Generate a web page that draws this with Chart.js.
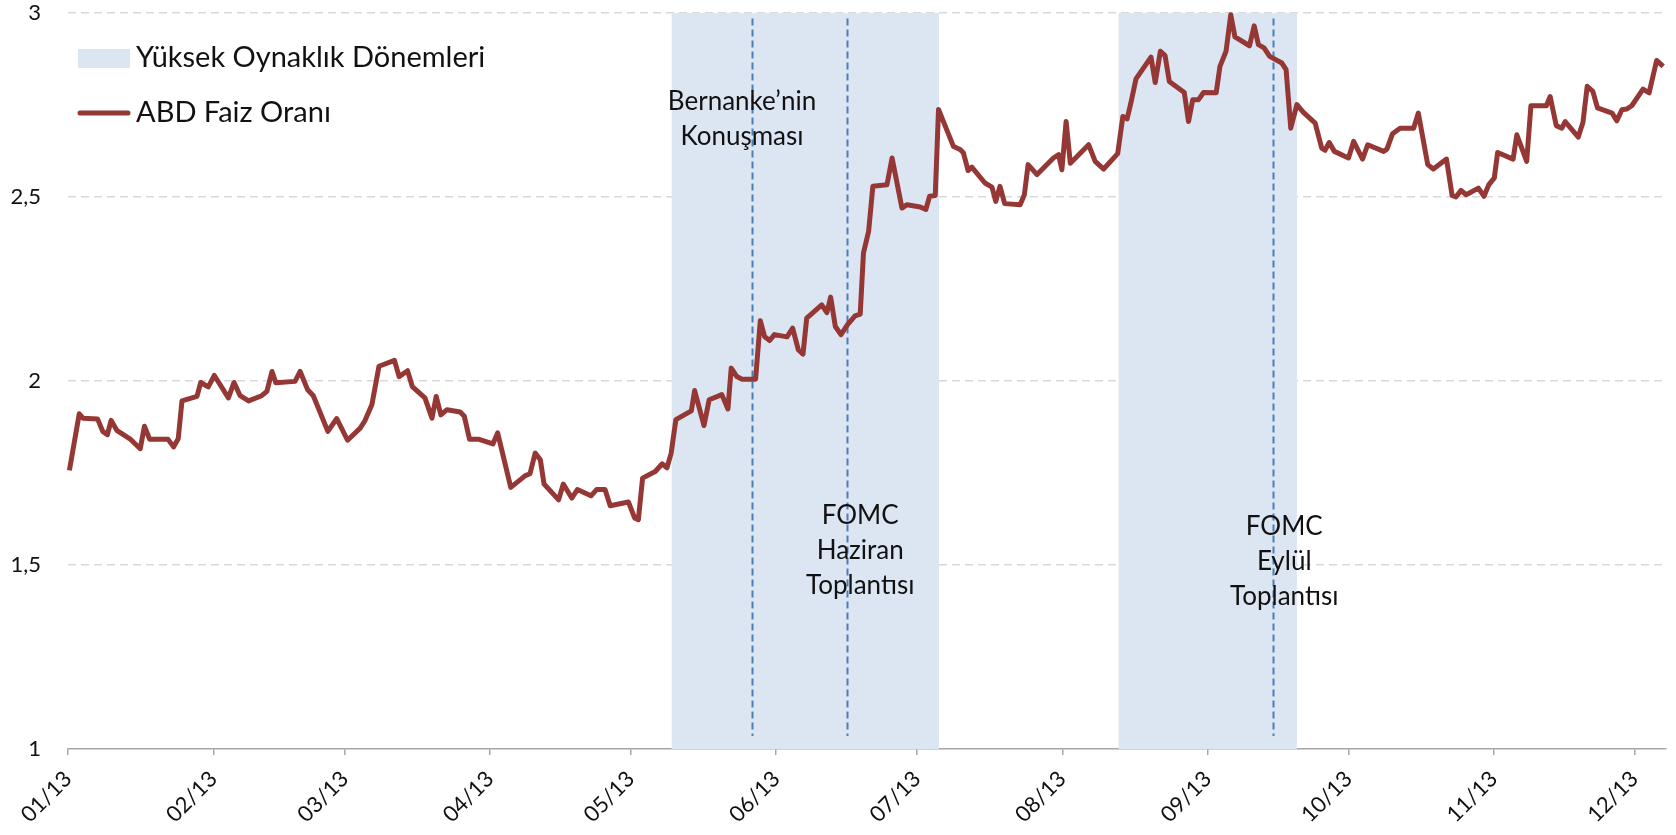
<!DOCTYPE html>
<html>
<head>
<meta charset="utf-8">
<script src="https://cdn.jsdelivr.net/npm/chart.js@4.4.1/dist/chart.umd.min.js"></script>
<style>
html, body { margin: 0; padding: 0; background: #fff; }
#wrap { width: 1676px; height: 835px; }
</style>
</head>
<body>
<div id="wrap"><canvas id="rateChart" width="1676" height="835"></canvas></div>
<script>
// days since 1 Jan 2013
const days = [
    0.3, 2.4, 3.2, 6.3, 7.4, 8.4, 9.2, 10.4, 13.2, 15.4, 16.3, 17.4, 21.3, 22.5, 23.5, 24.3,
    27.5, 28.3, 29.9, 31.2, 34.2, 35.4, 36.7, 38.5, 41.3, 42.4, 43.5, 44.3, 48.4, 49.5, 51.1,
    52.3, 55.4, 57.3, 59.6, 62.3, 63.3, 64.8, 66.3, 69.6, 70.6, 72.4, 73.4, 76.1, 77.6, 78.5,
    79.5, 80.8, 83.6, 84.5, 85.6, 87.5, 90.6, 91.6, 94.4, 97.5, 98.5, 99.6, 100.7, 101.5,
    104.6, 105.6, 107.4, 108.6, 111.5, 112.7, 114.5, 115.6, 119.5, 120.8, 121.6, 122.5,
    125.2, 126.7, 127.7, 128.6, 129.6, 132.9, 133.6, 135.6, 136.7, 139.4, 140.7, 141.4,
    142.6, 143.7, 146.6, 147.6, 148.5, 149.6, 150.6, 153.3, 154.5, 155.7, 156.7, 157.5,
    160.7, 161.8, 162.6, 163.6, 164.8, 166.2, 167.8, 168.9, 169.6, 170.7, 171.6, 174.6,
    175.7, 177.8, 178.9, 181.7, 182.9, 183.7, 184.9, 185.6, 188.8, 190.2, 190.9, 191.9,
    192.7, 195.5, 197.0, 197.8, 198.7, 199.7, 203.0, 203.9, 204.7, 206.6, 210.1, 211.2,
    211.9, 212.8, 213.7, 217.6, 219.0, 220.8, 223.8, 224.9, 225.8, 226.6, 227.7, 230.9,
    231.8, 232.9, 233.9, 234.8, 238.0, 238.9, 239.8, 241.0, 242.1, 244.8, 245.6, 246.9,
    247.9, 248.8, 251.9, 252.9, 253.8, 255.0, 256.2, 258.8, 259.7, 260.7, 262.0, 263.4,
    265.9, 267.3, 268.0, 268.9, 270.0, 273.0, 274.1, 276.0, 277.1, 280.5, 281.2, 282.4,
    284.0, 286.9, 287.9, 289.9, 291.1, 293.9, 295.1, 295.9, 297.0, 298.1, 300.7, 301.9,
    302.9, 304.1, 304.8, 308.1, 308.9, 311.0, 311.9, 315.2, 316.0, 317.3, 318.5, 319.2,
    322.0, 323.0, 323.9, 325.1, 326.1, 329.2, 330.2, 331.3, 332.3, 333.4, 335.8, 337.1,
    338.7, 340.1
];
const rates = [
    1.757, 1.911, 1.899, 1.897, 1.863, 1.854, 1.893, 1.866, 1.843, 1.816, 1.877, 1.842, 1.842, 1.821, 1.843, 1.946,
    1.958, 1.996, 1.984, 2.015, 1.954, 1.996, 1.960, 1.946, 1.960, 1.972, 2.026, 1.995, 1.999, 2.026, 1.976,
    1.960, 1.863, 1.898, 1.839, 1.872, 1.892, 1.936, 2.040, 2.056, 2.012, 2.028, 1.985, 1.954, 1.899, 1.958,
    1.908, 1.922, 1.916, 1.904, 1.842, 1.842, 1.829, 1.859, 1.711, 1.743, 1.748, 1.804, 1.786, 1.720,
    1.677, 1.720, 1.682, 1.705, 1.688, 1.705, 1.705, 1.661, 1.671, 1.628, 1.623, 1.736,
    1.754, 1.775, 1.764, 1.804, 1.895, 1.919, 1.974, 1.879, 1.949, 1.963, 1.924, 2.035,
    2.012, 2.005, 2.005, 2.164, 2.121, 2.110, 2.126, 2.120, 2.144, 2.085, 2.073, 2.171,
    2.207, 2.186, 2.228, 2.148, 2.126, 2.153, 2.177, 2.182, 2.348, 2.407, 2.529, 2.533,
    2.606, 2.470, 2.479, 2.473, 2.466, 2.502, 2.504, 2.738, 2.637, 2.629, 2.620, 2.572,
    2.581, 2.538, 2.527, 2.488, 2.529, 2.482, 2.479, 2.506, 2.588, 2.561, 2.606, 2.615,
    2.574, 2.705, 2.592, 2.642, 2.597, 2.576, 2.618, 2.719, 2.712, 2.755, 2.821, 2.880,
    2.811, 2.896, 2.884, 2.814, 2.784, 2.705, 2.764, 2.764, 2.784, 2.783, 2.855, 2.896,
    2.995, 2.935, 2.911, 2.965, 2.914, 2.905, 2.882, 2.864, 2.846, 2.687, 2.751, 2.730,
    2.701, 2.633, 2.627, 2.648, 2.624, 2.606, 2.651, 2.603, 2.642, 2.624, 2.630, 2.672,
    2.687, 2.687, 2.728, 2.588, 2.576, 2.603, 2.504, 2.500, 2.518, 2.506, 2.524, 2.502,
    2.533, 2.552, 2.621, 2.603, 2.669, 2.597, 2.748, 2.748, 2.773, 2.694, 2.687, 2.705,
    2.663, 2.703, 2.801, 2.787, 2.742, 2.728, 2.707, 2.737, 2.739, 2.748, 2.793, 2.783,
    2.871, 2.855
];

const monthStarts = [0, 31, 59, 90, 120, 151, 181, 212, 243, 273, 304, 334];
const monthLabels = ['01/13', '02/13', '03/13', '04/13', '05/13', '06/13',
                     '07/13', '08/13', '09/13', '10/13', '11/13', '12/13'];
const yTicks = [1, 1.5, 2, 2.5, 3];

const seriesNames = ['Yüksek Oynaklık Dönemleri', 'ABD Faiz Oranı'];
const bandStarts = [128.7, 224.0];
const bandEnds = [185.7, 262.0];
const eventDays = [145.8, 166.1, 256.9];
const noteTexts = [['Bernanke’nin', 'Konuşması'], ['FOMC', 'Haziran', 'Toplantısı'], ['FOMC', 'Eylül', 'Toplantısı']];
const noteDays = [143.7, 168.9, 259.3];
const noteTops = [2.759, 1.634, 1.604];

const FONT = 'Lato, "Open Sans", sans-serif';
const RED = '#953735';
const BAND = '#dce6f2';

const extras = {
    id: 'extras',
    beforeDatasetsDraw(chart) {
        const { ctx, chartArea, scales: { x, y } } = chart;
        ctx.save();
        ctx.fillStyle = BAND;
        bandStarts.forEach((s, i) => {
            const x0 = x.getPixelForValue(s), x1 = x.getPixelForValue(bandEnds[i]);
            ctx.fillRect(x0, chartArea.top, x1 - x0, chartArea.bottom - chartArea.top);
        });
        ctx.strokeStyle = '#4a7ebb';
        ctx.lineWidth = 2;
        ctx.setLineDash([7, 4]);
        eventDays.forEach(d => {
            const px = Math.round(x.getPixelForValue(d)) + 0.5;
            ctx.beginPath();
            ctx.moveTo(px, y.getPixelForValue(2.985));
            ctx.lineTo(px, y.getPixelForValue(1.035));
            ctx.stroke();
        });
        ctx.restore();
    },
    afterDatasetsDraw(chart) {
        const { ctx, scales: { x, y } } = chart;
        ctx.save();
        ctx.fillStyle = '#111';
        ctx.font = '26px ' + FONT;
        ctx.textAlign = 'center';
        ctx.textBaseline = 'middle';
        noteTexts.forEach((lines, i) => {
            const cx = x.getPixelForValue(noteDays[i]);
            const top = y.getPixelForValue(noteTops[i]);
            lines.forEach((t, j) => ctx.fillText(t, cx, top + j * 35));
        });

        // legend
        ctx.fillStyle = BAND;
        ctx.fillRect(78, 49, 52, 19);
        ctx.strokeStyle = RED;
        ctx.lineWidth = 5;
        ctx.lineCap = 'round';
        ctx.beginPath();
        ctx.moveTo(80, 113);
        ctx.lineTo(128, 113);
        ctx.stroke();
        ctx.fillStyle = '#111';
        ctx.textAlign = 'left';
        ctx.font = '29px ' + FONT;
        ctx.fillText(seriesNames[0], 136, 58);
        ctx.fillText(seriesNames[1], 136, 113);
        ctx.restore();
    }
};

const ctx = document.getElementById('rateChart').getContext('2d');
new Chart(ctx, {
    type: 'line',
    data: {
        datasets: [{
            label: seriesNames[1],
            data: days.map((d, i) => ({ x: d, y: rates[i] })),
            borderColor: RED,
            borderWidth: 5,
            borderJoinStyle: 'round',
            pointRadius: 0,
            tension: 0,
            fill: false,
            clip: false
        }]
    },
    options: {
        responsive: false,
        animation: false,
        layout: { padding: { top: 13, right: 10, left: 0, bottom: 0 } },
        plugins: { legend: { display: false }, tooltip: { enabled: false } },
        scales: {
            x: {
                type: 'linear',
                min: 0,
                max: 340.7,
                afterBuildTicks: s => { s.ticks = monthStarts.map(v => ({ value: v })); },
                afterFit: s => { s.height = 86; },
                grid: { drawOnChartArea: false, drawTicks: true, tickLength: 6, color: '#a6a6a6', lineWidth: 1.5 },
                border: { display: true, color: '#a6a6a6', width: 1.5 },
                ticks: {
                    autoSkip: false,
                    minRotation: 45,
                    maxRotation: 45,
                    padding: 11,
                    color: '#111',
                    font: { family: FONT, size: 22 },
                    callback: (v, i) => monthLabels[i]
                }
            },
            y: {
                min: 1,
                max: 3,
                afterBuildTicks: s => { s.ticks = yTicks.map(v => ({ value: v })); },
                afterFit: s => { s.width = 68; s.paddingTop = 0; s.paddingBottom = 0; },
                grid: {
                    drawTicks: false,
                    lineWidth: 1.5,
                    color: c => (c.tick && c.tick.value === 1) ? 'rgba(0,0,0,0)' : '#d9d9d9'
                },
                border: { display: false, dash: [8, 5] },
                ticks: {
                    padding: 27,
                    color: '#111',
                    font: { family: FONT, size: 22 },
                    callback: v => String(v).replace('.', ',')
                }
            }
        }
    },
    plugins: [extras]
});
</script>
</body>
</html>
